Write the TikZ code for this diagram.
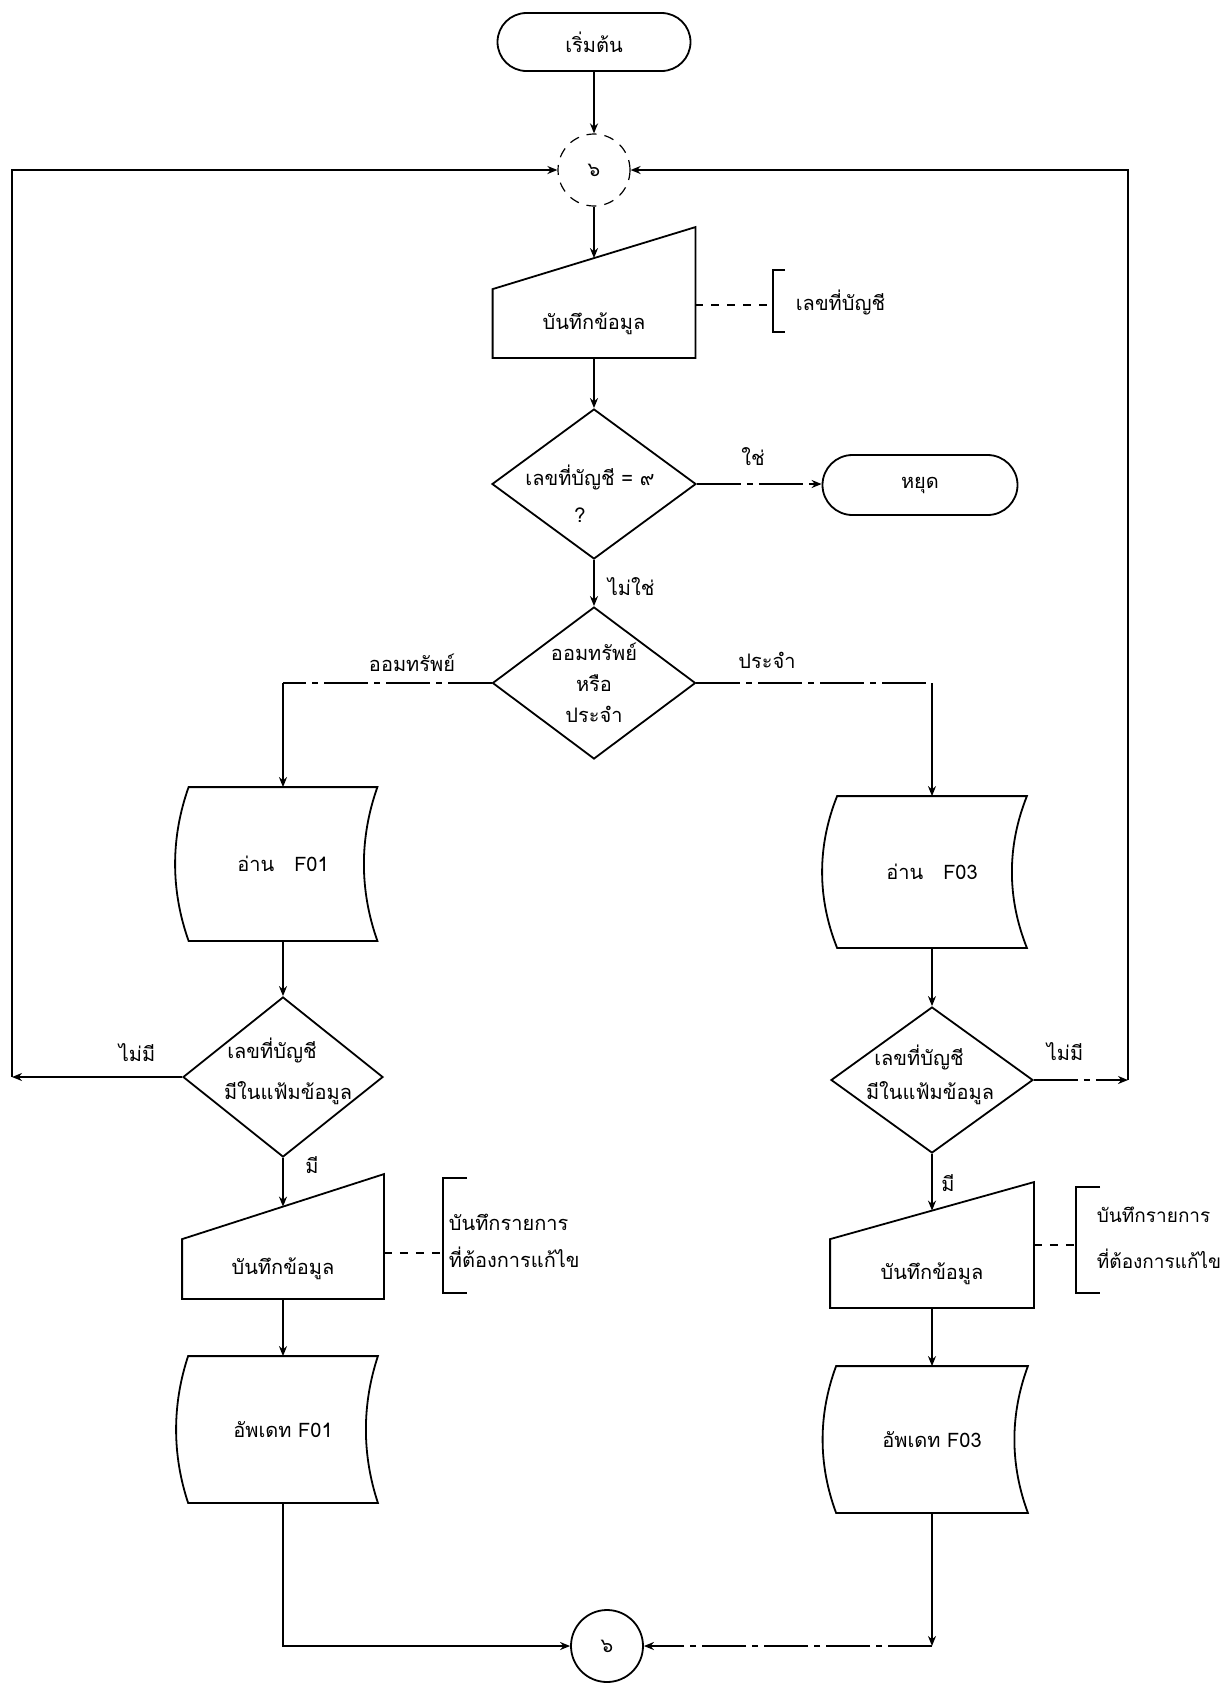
\documentclass[tikz,border=0pt]{standalone}
\usepackage{fontspec}
\newfontfamily\thaifont[Script=Thai]{Loma}
\usetikzlibrary{shapes.geometric,shapes.misc,arrows.meta,calc}
\newcommand\bowbox[2]{%
  \draw (#1.north west) -- (#1.north east)
    .. controls ($(#1.north east)!0.33!(#1.south east)+(-#2,0pt)$) and ($(#1.north east)!0.67!(#1.south east)+(-#2,0pt)$) .. (#1.south east)
    -- (#1.south west)
    .. controls ($(#1.south west)!0.33!(#1.north west)+(-#2,0pt)$) and ($(#1.south west)!0.67!(#1.north west)+(-#2,0pt)$) .. (#1.north west) -- cycle;}
\newcommand\slantbox[2]{%
  \draw (#1.south west) -- (#1.south east) -- ($(#1.north east)+(0pt,#2)$) -- (#1.north west) -- cycle;}
\begin{document}
\begin{tikzpicture}[x=0.5pt,y=-0.5pt,
  font=\thaifont\fontsize{10}{12}\selectfont,
  line width=0.9pt,
  >={Stealth[length=5pt,width=4pt]},
  term/.style={rounded rectangle, draw, inner sep=0pt},
  dia/.style={diamond, draw, inner sep=0pt},
  shapebox/.style={rectangle, draw=none, inner sep=0pt},
  conn/.style={circle, draw, inner sep=0pt, minimum size=36pt},
  txt/.style={inner sep=0pt},
  flow/.style={->},
  broken/.style={dash pattern=on 22pt off 3pt on 3pt off 3pt},
  annot/.style={dash pattern=on 4pt off 4pt, line width=0.8pt},
]
\useasboundingbox (0,0) rectangle (1225,1704);

% ---- main column
\node[term, minimum width=96.5pt, minimum height=29pt] (start) at (594,42) {เริ่มต้น};
\node[conn, dash pattern=on 5pt off 4pt, line width=0.6pt] (c1) at (594,170) {๖};
\node[shapebox, minimum width=100.5pt, minimum height=33.5pt] (b1) at (594,323.5) {บันทึกข้อมูล};
\slantbox{b1}{31pt}
\coordinate (b1in) at ($(b1.north)+(0pt,15.5pt)$);

\node[dia, minimum width=102pt, minimum height=75pt] (d1) at (594,484) {};
\node[txt] (d1a) at (590,477) {เลขที่บัญชี = ๙};
\node[txt] (d1b) at (580,515) {?};
\node[term, minimum width=97.5pt, minimum height=30pt] (stop) at (920,485) {หยุด};

\node[dia, minimum width=101.5pt, minimum height=76pt] (d2) at (594,683) {};
\node[txt] (d2a) at (594,652) {ออมทรัพย์};
\node[txt] (d2b) at (594,683) {หรือ};
\node[txt] (d2c) at (594,714) {ประจำ};

% ---- left column
\node[shapebox, minimum width=93.5pt, minimum height=76pt] (rf1) at (283,864) {อ่าน\quad F01};
\bowbox{rf1}{9pt}
\node[dia, minimum width=100pt, minimum height=80pt] (d3) at (283,1077) {};
\node[txt] (d3a) at (272,1050) {เลขที่บัญชี};
\node[txt] (d3b) at (288,1093) {มีในแฟ้มข้อมูล};
\node[shapebox, minimum width=100pt, minimum height=29pt] (mb3) at (283,1269) {บันทึกข้อมูล};
\slantbox{mb3}{32.5pt}
\coordinate (mb3in) at ($(mb3.north)+(0pt,16.25pt)$);
\node[shapebox, minimum width=94pt, minimum height=72.5pt] (uf1) at (283,1429.5) {อัพเดท F01};
\bowbox{uf1}{8pt}

% ---- right column
\node[shapebox, minimum width=94pt, minimum height=75pt] (rf3) at (932,872) {อ่าน\quad F03};
\bowbox{rf3}{10pt}
\node[dia, minimum width=101pt, minimum height=73pt] (d4) at (932,1080) {};
\node[txt] (d4a) at (919,1057) {เลขที่บัญชี};
\node[txt] (d4b) at (930,1093) {มีในแฟ้มข้อมูล};
\node[shapebox, minimum width=101pt, minimum height=33.5pt] (mb5) at (932,1273.5) {บันทึกข้อมูล};
\slantbox{mb5}{28.5pt}
\coordinate (mb5in) at ($(mb5.north)+(0pt,14.25pt)$);
\node[shapebox, minimum width=95pt, minimum height=72.5pt] (uf3) at (932,1439.5) {อัพเดท F03};
\bowbox{uf3}{9pt}

% ---- bottom connector
\node[conn] (bc) at (607,1646) {๖};

% ---- annotations
\node[txt, anchor=west] (a1) at (795,302) {เลขที่บัญชี};
\coordinate (k1) at (773,305);
\draw (785,270) -- (773,270) -- (773,332) -- (785,332);
\draw[annot] (k1 -| b1.east) -- (k1);

\node[txt, anchor=west, align=left, font=\thaifont\fontsize{10}{18.5}\selectfont] (a3) at (448,1241) {บันทึกรายการ\\ที่ต้องการแก้ไข};
\coordinate (k3) at (443,1253);
\draw (467,1178) -- (443,1178) -- (443,1293) -- (467,1293);
\draw[annot] (k3 -| mb3.east) -- (k3);

\node[txt, anchor=west, align=left, font=\thaifont\fontsize{9.5}{23}\selectfont] (a5) at (1096,1238) {บันทึกรายการ\\ที่ต้องการแก้ไข};
\coordinate (k5) at (1076,1245);
\draw (1100,1187) -- (1076,1187) -- (1076,1293) -- (1100,1293);
\draw[annot] (k5 -| mb5.east) -- (k5);

% ---- connectors
\draw[flow] (start) -- (c1);
\draw[flow] (c1) -- (b1in);
\draw[flow] (b1) -- (d1);
\draw[flow, broken] (d1.east) -- (stop.west |- d1.east);
\node[txt] (lyes) at (753,457) {ใช่};
\draw[flow] (d1) -- (d2);
\node[txt, anchor=west] (lno) at (607,587) {ไม่ใช่};

\coordinate (S1) at (rf1.north |- d2.west);
\draw[broken] (d2.west) -- (S1);
\draw[flow] (S1) -- (rf1.north);
\node[txt] (lsav) at (412,663) {ออมทรัพย์};
\coordinate (S3) at (rf3.north |- d2.east);
\draw[broken] (d2.east) -- (S3);
\draw[flow] (S3) -- (rf3.north);
\node[txt] (lfix) at (767,660) {ประจำ};

\draw[flow] (rf1) -- (d3);
\draw[flow] (rf3) -- (d4);

\coordinate (L1) at (12,1077);
\coordinate (L2) at (12,170);
\draw[flow] (d3.west) -- (L1);
\draw[flow] (L1) -- (L2) -- (c1.west);
\node[txt] (lnoL) at (137,1053) {ไม่มี};

\coordinate (R1) at (1128,1080);
\coordinate (R2) at (1128,170);
\draw[flow, broken] (d4.east) -- (R1);
\draw[flow] (R1) -- (R2) -- (c1.east);
\node[txt] (lnoR) at (1065,1052) {ไม่มี};

\draw[flow] (d3) -- (mb3in);
\node[txt] (lyL) at (312,1165) {มี};
\draw[flow] (d4) -- (mb5in);
\node[txt] (lyR) at (948,1183) {มี};

\draw[flow] (mb3) -- (uf1);
\draw[flow] (mb5) -- (uf3);

\coordinate (B1) at (283,1646);
\coordinate (B2) at (932,1646);
\draw[flow] (uf1.south) -- (B1) -- (bc.west);
\draw[flow] (uf3.south) -- (B2);
\draw[flow, broken] (B2) -- (bc.east);
\end{tikzpicture}
\end{document}
